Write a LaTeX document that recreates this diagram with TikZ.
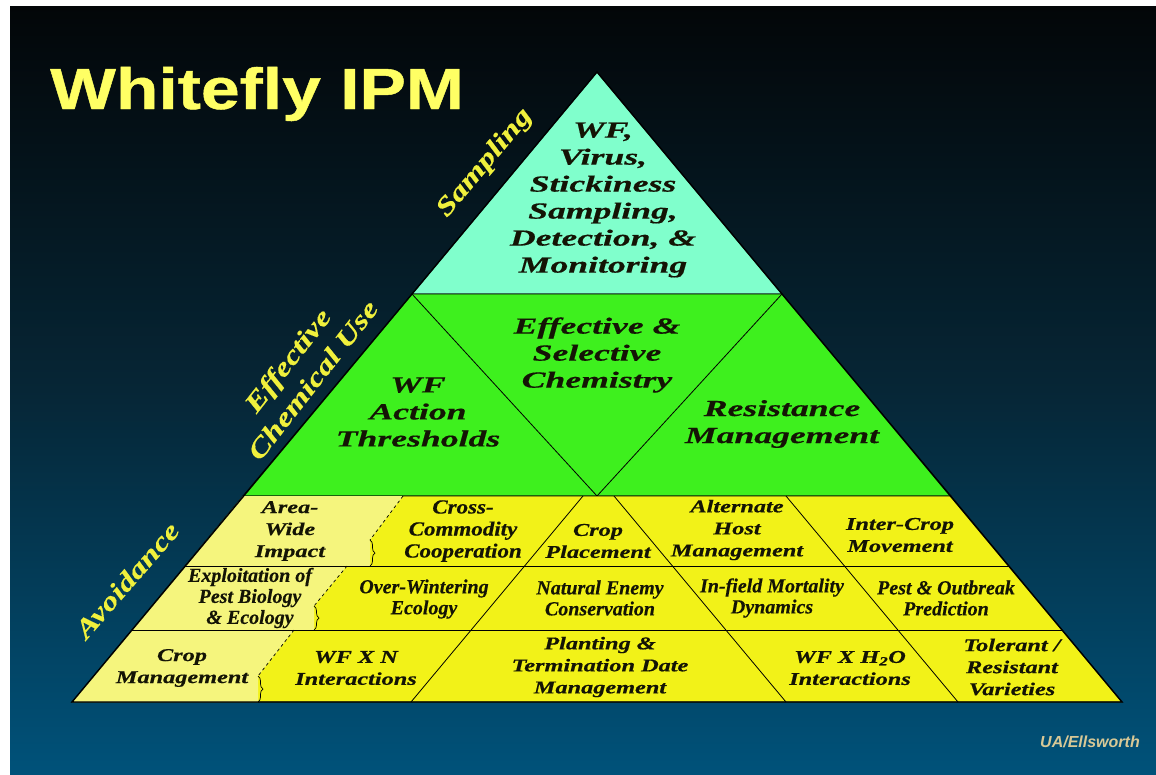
\documentclass[tikz,border=0pt]{standalone}
\usepackage{fontspec}
\setmainfont{Liberation Serif}
\newfontfamily\widefont[FakeStretch=1.55, FakeBold=0.5]{Liberation Serif}
\newfontfamily\cellfont[FakeStretch=1.35, FakeBold=0.5]{Liberation Serif}
\newfontfamily\midfont[FakeStretch=1.15, FakeBold=0.5]{Liberation Serif}
\newfontfamily\slimfont[FakeBold=0.3]{Liberation Serif}
\newfontfamily\sidefont[FakeStretch=1.3, FakeBold=0.4]{Liberation Serif}
\newfontfamily\titlefont[FakeStretch=1.2, FakeBold=0.8]{Liberation Sans}
\newfontfamily\signfont{Liberation Sans}
\usetikzlibrary{decorations.pathreplacing}

\definecolor{nightblack}{RGB}{3,6,8}
\definecolor{deepteal}{RGB}{6,38,54}
\definecolor{seablue}{RGB}{0,82,122}
\definecolor{mintaqua}{RGB}{128,255,204}
\definecolor{leafgreen}{RGB}{62,240,30}
\definecolor{cellyellow}{RGB}{242,242,24}
\definecolor{paleyellow}{RGB}{245,245,125}
\definecolor{sideyellow}{RGB}{240,240,60}
\definecolor{titleyellow}{RGB}{255,255,100}
\definecolor{signtan}{RGB}{215,200,150}
\definecolor{inkdark}{RGB}{20,20,5}

\begin{document}
\begin{tikzpicture}[x=1pt, y=-1pt,
        every node/.style = {align=center, inner sep=0pt, text=inkdark},
        bigtext/.style = {font=\widefont\bfseries\itshape\fontsize{23}{27}\selectfont},
        celltext/.style = {font=\cellfont\bfseries\itshape\fontsize{18}{22}\selectfont},
        midtext/.style = {font=\midfont\bfseries\itshape\fontsize{20}{22}\selectfont},
        slimtext/.style = {font=\slimfont\bfseries\itshape\fontsize{20}{21}\selectfont},
        sidetext/.style = {font=\sidefont\bfseries\itshape\fontsize{26}{32}\selectfont, text=sideyellow},
        rim/.style = {draw=black, line width=0.8pt},
        seam/.style = {draw=black, line width=0.7pt, dash pattern=on 3pt off 3pt},
        curl/.style = {draw=black, line width=0.7pt, decorate, decoration={brace, amplitude=5pt}},
    ]
    \useasboundingbox (0,0) rectangle (1156,774);
    \fill[white] (0,0) rectangle (1156,774);
    \shade[top color=nightblack, bottom color=seablue, middle color=deepteal] (10,6) rectangle (1156,774);

    % pyramid corners
    \coordinate (apex) at (597,72);
    \coordinate (sl) at (412,294);  \coordinate (sr) at (782,294);
    \coordinate (gl) at (243,496);  \coordinate (gr) at (951,496);
    \coordinate (gv) at (597,496);
    \coordinate (r1l) at (185,566); \coordinate (r1r) at (1009,566);
    \coordinate (r2l) at (132,630); \coordinate (r2r) at (1062,630);
    \coordinate (bl) at (72,702);   \coordinate (br) at (1122,702);

    \filldraw[fill=mintaqua, rim] (apex) -- (sr) -- (sl) -- cycle;
    \filldraw[fill=leafgreen, rim] (sl) -- (sr) -- (gr) -- (gl) -- cycle;
    \draw[rim] (sl) -- (gv) -- (sr);
    \filldraw[fill=cellyellow, rim] (gl) -- (gr) -- (br) -- (bl) -- cycle;

    % pale cells on the left
    \fill[paleyellow] (gl) -- (403,496) -- (370,540) -- (370,566) -- (r1l) -- cycle;
    \fill[paleyellow] (r1l) -- (347,566) -- (314,606) -- (314,630) -- (r2l) -- cycle;
    \fill[paleyellow] (r2l) -- (294,630) -- (258,676) -- (258,702) -- (bl) -- cycle;
    \draw[seam] (403,496) -- (370,540);
    \draw[curl] (370,540) -- (370,566);
    \draw[seam] (347,566) -- (314,606);
    \draw[curl] (314,606) -- (314,630);
    \draw[seam] (294,630) -- (258,676);
    \draw[curl] (258,676) -- (258,702);

    \draw[rim] (r1l) -- (r1r);
    \draw[rim] (r2l) -- (r2r);
    \draw[rim] (583,496) -- (411,702);
    \draw[rim] (614,496) -- (786,702);
    \draw[rim] (786,496) -- (958,702);
    \draw[rim, line width=1.4pt] (apex) -- (br) -- (bl) -- cycle;

    \node[bigtext] (smp) at (603,200) {WF,\\Virus,\\Stickiness\\Sampling,\\Detection, \&\\Monitoring};
    \node[bigtext] (thr) at (418,412) {WF\\Action\\Thresholds};
    \node[bigtext] (chem) at (597,355) {Effective \&\\Selective\\Chemistry};
    \node[bigtext] (res) at (782,424) {Resistance\\Management};

    \node[celltext] (area) at (290,531) {Area-\\Wide\\Impact};
    \node[midtext] (cross) at (463,531) {Cross-\\Commodity\\Cooperation};
    \node[celltext] (place) at (598,541) {Crop\\Placement};
    \node[celltext] (host) at (737,530) {Alternate\\Host\\Management};
    \node[celltext] (move) at (900,535) {Inter-Crop\\Movement};

    \node[slimtext] (expl) at (250,598) {Exploitation of\\Pest Biology\\\& Ecology};
    \node[slimtext] (wint) at (424,599) {Over-Wintering\\Ecology};
    \node[slimtext] (enemy) at (600,598) {Natural Enemy\\Conservation};
    \node[slimtext] (mort) at (772,598) {In-field Mortality\\Dynamics};
    \node[slimtext] (pest) at (946,598) {Pest \& Outbreak\\Prediction};

    \node[celltext] (cman) at (182,668) {Crop\\Management};
    \node[celltext] (wfn) at (356,668) {WF X N\\Interactions};
    \node[celltext] (plant) at (600,667) {Planting \&\\Termination Date\\Management};
    \node[celltext] (wfh) at (850,668) {WF X H\textsubscript{2}O\\Interactions};
    \node[celltext] (tol) at (1012,667) {Tolerant /\\Resistant\\Varieties};

    \node[sidetext, rotate=50] (samp) at (485,163) {Sampling};
    \node[sidetext, rotate=52] (chemuse) at (300,370) {Effective\\Chemical Use};
    \node[sidetext, rotate=49] (avoid) at (127,580) {Avoidance};

    \node[anchor=base west, font=\titlefont\bfseries\fontsize{58}{60}\selectfont, text=titleyellow] (title) at (50,109) {Whitefly IPM};
    \node[font=\signfont\bfseries\itshape\fontsize{16}{18}\selectfont, text=signtan] (sign) at (1090,742) {UA/Ellsworth};
\end{tikzpicture}
\end{document}
